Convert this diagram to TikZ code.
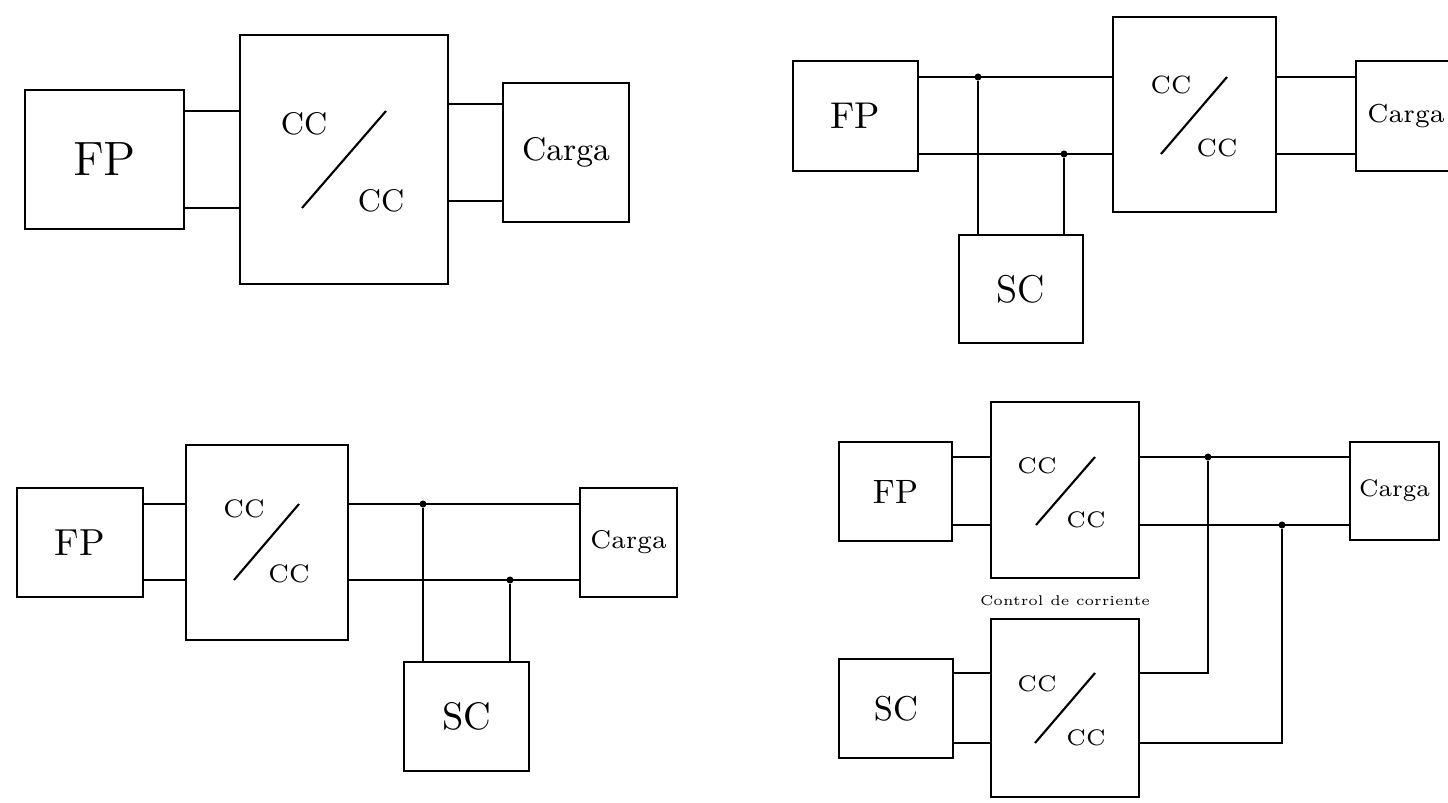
\documentclass[tikz,border=0pt]{standalone}
\usepackage{tikz}
\usetikzlibrary{positioning}
\newcommand{\fsz}[1]{\fontsize{#1}{#1}\selectfont}

\begin{document}
\begin{tikzpicture}[x=0.01cm,y=-0.01cm,
  box/.style={draw,line width=0.75pt,inner sep=0pt},
  lbl/.style={inner sep=0pt},
  wire/.style={line width=0.6pt},
  dot/.style={fill,circle,inner sep=0pt,minimum size=2pt}
]
  \useasboundingbox (0,0) rectangle (1448,803);
  \clip (0,0) rectangle (1448,803);

  % arriba izquierda
  \node[box,minimum width=1.59cm,minimum height=1.39cm,font=\fsz{13.7}] (fpA) at (104.5,159.5) {FP};
  \node[box,minimum width=2.08cm,minimum height=2.49cm] (convA) at (344,159.5) {};
  \node[box,minimum width=1.26cm,minimum height=1.39cm,font=\fsz{9.3}] (cargaA) at (566,152.5) {Carga};
  \node[lbl,font=\fsz{8.9}] (ccA1) at (304,124) {CC};
  \node[lbl,font=\fsz{8.9}] (ccA2) at (381,201) {CC};
  \draw[wire] (302,208) -- (386,111);
  \coordinate (yA1) at (0,111); \coordinate (yA2) at (0,208);
  \coordinate (yA3) at (0,104); \coordinate (yA4) at (0,201);
  \draw[wire] (fpA.east |- yA1) -- (convA.west |- yA1);
  \draw[wire] (fpA.east |- yA2) -- (convA.west |- yA2);
  \draw[wire] (convA.east |- yA3) -- (cargaA.west |- yA3);
  \draw[wire] (convA.east |- yA4) -- (cargaA.west |- yA4);

  % arriba derecha
  \node[box,minimum width=1.25cm,minimum height=1.10cm,font=\fsz{10.6}] (fpB) at (855.5,116) {FP};
  \node[box,minimum width=1.63cm,minimum height=1.95cm] (convB) at (1194.5,114.5) {};
  \node[box,minimum width=1.00cm,minimum height=1.10cm,font=\fsz{7.4}] (cargaB) at (1406,116) {Carga};
  \node[box,minimum width=1.24cm,minimum height=1.08cm,font=\fsz{11}] (scB) at (1021,289) {SC};
  \node[lbl,font=\fsz{7.1}] (ccB1) at (1171,85) {CC};
  \node[lbl,font=\fsz{7.1}] (ccB2) at (1217,148) {CC};
  \draw[wire] (1161,154) -- (1227,77);
  \node[dot] (jB1) at (978,77) {};
  \node[dot] (jB2) at (1064,154) {};
  \draw[wire] (fpB.east |- jB1) -- (convB.west |- jB1);
  \draw[wire] (fpB.east |- jB2) -- (convB.west |- jB2);
  \draw[wire] (jB1) -- (jB1 |- scB.north);
  \draw[wire] (jB2) -- (jB2 |- scB.north);
  \draw[wire] (convB.east |- jB1) -- (cargaB.west |- jB1);
  \draw[wire] (convB.east |- jB2) -- (cargaB.west |- jB2);

  % abajo izquierda
  \node[box,minimum width=1.26cm,minimum height=1.09cm,font=\fsz{10.7}] (fpC) at (80,542.5) {FP};
  \node[box,minimum width=1.62cm,minimum height=1.95cm] (convC) at (267,542.5) {};
  \node[box,minimum width=0.97cm,minimum height=1.09cm,font=\fsz{7.3}] (cargaC) at (628.5,542.5) {Carga};
  \node[box,minimum width=1.25cm,minimum height=1.09cm,font=\fsz{10.9}] (scC) at (466.5,716.5) {SC};
  \node[lbl,font=\fsz{7.2}] (ccC1) at (244,509) {CC};
  \node[lbl,font=\fsz{7.2}] (ccC2) at (289,574) {CC};
  \draw[wire] (234,580) -- (299,504);
  \node[dot] (jC1) at (423,504) {};
  \node[dot] (jC2) at (510,580) {};
  \draw[wire] (fpC.east |- jC1) -- (convC.west |- jC1);
  \draw[wire] (fpC.east |- jC2) -- (convC.west |- jC2);
  \draw[wire] (convC.east |- jC1) -- (cargaC.west |- jC1);
  \draw[wire] (convC.east |- jC2) -- (cargaC.west |- jC2);
  \draw[wire] (jC1) -- (jC1 |- scC.north);
  \draw[wire] (jC2) -- (jC2 |- scC.north);

  % abajo derecha
  \node[box,minimum width=1.13cm,minimum height=0.99cm,font=\fsz{9.6}] (fpD) at (895.5,491.5) {FP};
  \node[box,minimum width=1.48cm,minimum height=1.76cm] (convD1) at (1065,490) {};
  \node[box,minimum width=0.89cm,minimum height=0.98cm,font=\fsz{6.8}] (cargaD) at (1394.5,491) {Carga};
  \node[lbl,font=\fsz{4}] (ctrl) at (1065,601) {Control de corriente};
  \node[box,minimum width=1.14cm,minimum height=0.99cm,font=\fsz{9.8}] (scD) at (896,708.5) {SC};
  \node[box,minimum width=1.48cm,minimum height=1.78cm] (convD2) at (1065,708) {};
  \node[lbl,font=\fsz{6.4}] (ccD1) at (1037,466) {CC};
  \node[lbl,font=\fsz{6.4}] (ccD2) at (1086,520) {CC};
  \draw[wire] (1036,525) -- (1095,457);
  \node[lbl,font=\fsz{6.4}] (ccD3) at (1037,684) {CC};
  \node[lbl,font=\fsz{6.4}] (ccD4) at (1086,738) {CC};
  \draw[wire] (1035,743) -- (1095,673);
  \node[dot] (jD1) at (1208,457) {};
  \node[dot] (jD2) at (1282,525) {};
  \coordinate (yD3) at (0,673); \coordinate (yD4) at (0,743);
  \draw[wire] (fpD.east |- jD1) -- (convD1.west |- jD1);
  \draw[wire] (fpD.east |- jD2) -- (convD1.west |- jD2);
  \draw[wire] (convD1.east |- jD1) -- (cargaD.west |- jD1);
  \draw[wire] (convD1.east |- jD2) -- (cargaD.west |- jD2);
  \draw[wire] (scD.east |- yD3) -- (convD2.west |- yD3);
  \draw[wire] (scD.east |- yD4) -- (convD2.west |- yD4);
  \draw[wire] (convD2.east |- yD3) -| (jD1);
  \draw[wire] (convD2.east |- yD4) -| (jD2);
\end{tikzpicture}
\end{document}
